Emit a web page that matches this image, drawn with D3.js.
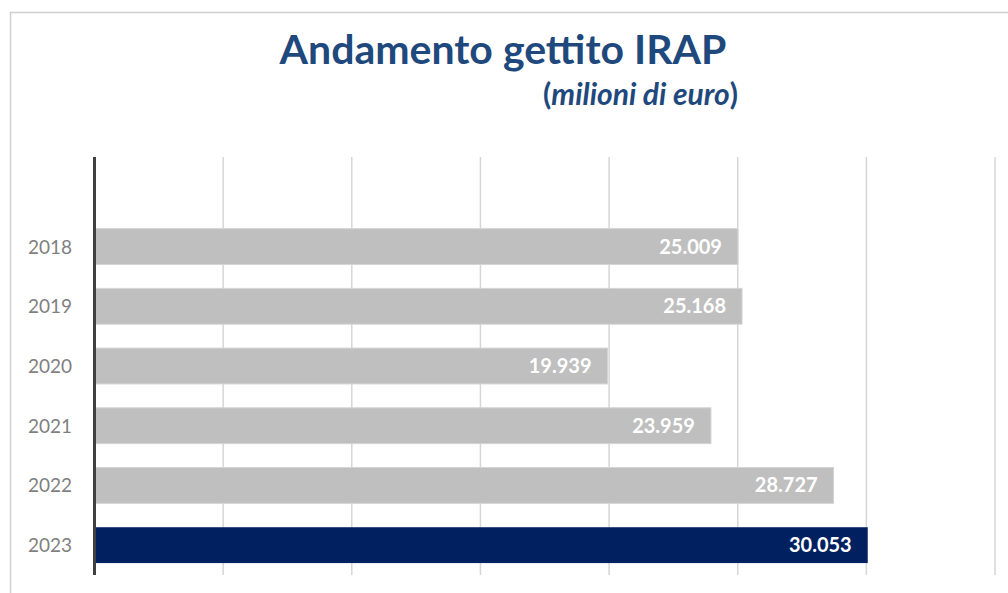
<!DOCTYPE html>
<html>
<head lang="it">
    <meta charset="UTF-8">
    <title>Andamento gettito IRAP</title>
    <script src="https://cdn.jsdelivr.net/npm/d3@7"></script>
    <style>
        body { margin: 0; background: #fff; }
        text { font-family: Lato, "Open Sans", sans-serif; }
    </style>
</head>
<body>
<svg id="mainSvg"></svg>
<script>
    var years = ["2018", "2019", "2020", "2021", "2022", "2023"];
    var values = [25009, 25168, 19939, 23959, 28727, 30053];
    var xTicks = [0, 5000, 10000, 15000, 20000, 25000, 30000, 35000];

    var w = 1008, h = 593;
    var svg = d3.select("#mainSvg").attr("width", w).attr("height", h);

    // cornice del grafico
    svg.append("path")
        .attr("d", "M10.5," + h + "V12.5H" + w)
        .attr("fill", "none")
        .attr("stroke", "#d0d0d0")
        .attr("stroke-width", 1.5);

    svg.append("text")
        .attr("x", 503).attr("y", 64)
        .attr("text-anchor", "middle")
        .attr("font-size", 41).attr("font-weight", "bold")
        .attr("fill", "#1f497d")
        .text("Andamento gettito IRAP");

    svg.append("text")
        .attr("x", 738).attr("y", 105)
        .attr("text-anchor", "end")
        .attr("font-size", 30).attr("font-weight", "bold")
        .attr("fill", "#1f497d")
        .html('(<tspan font-style="italic">milioni di euro</tspan>)');

    var x = d3.scaleLinear().domain([0, 35000]).range([94.5, 995]);
    var y = d3.scaleBand().domain(years).range([216.7, 575]).paddingInner(0.4).paddingOuter(0.2);
    var plotTop = 157, plotBottom = 575;

    svg.selectAll("line.grid")
        .data(xTicks.slice(1))
        .enter()
        .append("line")
        .attr("class", "grid")
        .attr("x1", function (d) { return x(d); })
        .attr("x2", function (d) { return x(d); })
        .attr("y1", plotTop).attr("y2", plotBottom)
        .attr("stroke", "#d6d6d6")
        .attr("stroke-width", 1.5);

    svg.selectAll("rect.bar")
        .data(values)
        .enter()
        .append("rect")
        .attr("class", "bar")
        .attr("x", x(0))
        .attr("y", function (d, i) { return y(years[i]); })
        .attr("width", function (d) { return x(d) - x(0); })
        .attr("height", y.bandwidth())
        .attr("fill", function (d, i) { return i === years.length - 1 ? "#002060" : "#bfbfbf"; })
        .attr("stroke", function (d, i) { return i === years.length - 1 ? "none" : "#d4d4d4"; })
        .attr("stroke-width", 1);

    svg.selectAll("text.val")
        .data(values)
        .enter()
        .append("text")
        .attr("class", "val")
        .attr("x", function (d) { return x(d) - 16; })
        .attr("y", function (d, i) { return y(years[i]) + y.bandwidth() / 2 + 7; })
        .attr("text-anchor", "end")
        .attr("font-size", 20).attr("font-weight", "bold")
        .attr("fill", "#ffffff")
        .text(function (d) { return d3.format(",")(d).replace(/,/g, "."); });

    svg.selectAll("text.year")
        .data(years)
        .enter()
        .append("text")
        .attr("class", "year")
        .attr("x", 72)
        .attr("y", function (d) { return y(d) + y.bandwidth() / 2 + 7; })
        .attr("text-anchor", "end")
        .attr("font-size", 19)
        .attr("fill", "#7f7f7f")
        .text(function (d) { return d; });

    svg.append("line")
        .attr("x1", x(0)).attr("x2", x(0))
        .attr("y1", plotTop).attr("y2", plotBottom)
        .attr("stroke", "#404040")
        .attr("stroke-width", 3);
</script>
</body>
</html>
